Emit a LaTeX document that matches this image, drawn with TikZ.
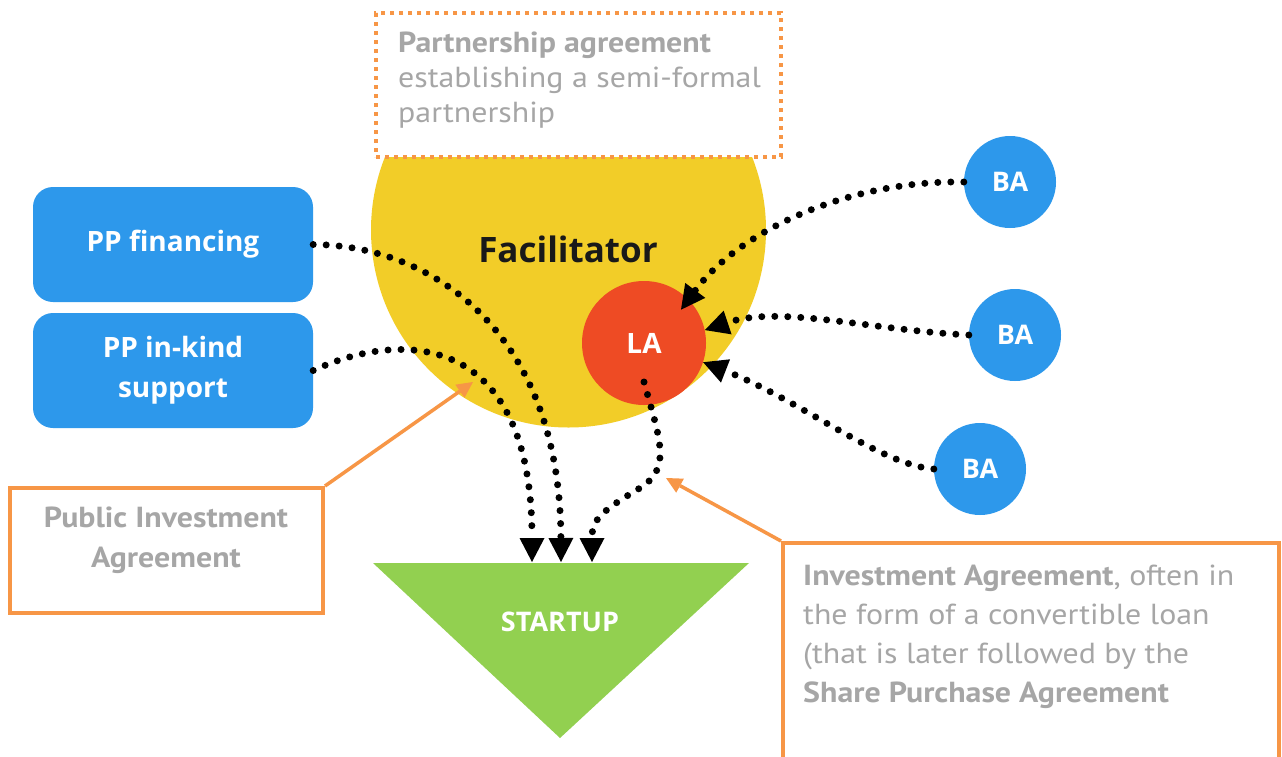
\documentclass[tikz,border=0pt]{standalone}
\usepackage{fontspec}
\setmainfont{PT Sans}
\newfontfamily\notefont[FakeStretch=1.1]{PT Sans}
\newfontfamily\opensans{Open Sans}
\usetikzlibrary{arrows.meta,calc}

\definecolor{ppblue}{RGB}{45,152,235}
\definecolor{facyellow}{RGB}{242,205,40}
\definecolor{lared}{RGB}{238,75,36}
\definecolor{upgreen}{RGB}{146,208,80}
\definecolor{noteorange}{RGB}{247,150,70}
\definecolor{notegray}{RGB}{166,166,166}

\tikzset{
	ppbox/.style={fill=ppblue, rounded corners=20pt, minimum width=280pt, minimum height=115pt, inner sep=0pt, text=white, align=center, font=\opensans\bfseries\fontsize{28}{40}\selectfont},
	investor/.style={circle, fill=ppblue, minimum size=92pt, inner sep=0pt, text=white, font=\opensans\bfseries\fontsize{27}{32}\selectfont},
	flow/.style={line width=7pt, line cap=round, dash pattern=on 0pt off 13pt, -{Triangle[length=24pt,width=25pt,line width=0pt]}},
	notebox/.style={draw=noteorange, line width=4pt, fill=white, inner sep=0pt},
	notetext/.style={text=notegray, inner sep=0pt, font=\notefont\fontsize{29}{35}\selectfont},
	pointer/.style={draw=noteorange, line width=3.5pt, -{Triangle[length=16pt,width=16pt,line width=0pt]}}
}

\begin{document}
\begin{tikzpicture}[x=1pt,y=-1pt]
		%%%%% START %%%%%
		
		\fill[white] (0,0) rectangle (1282,756);
		\useasboundingbox (0,0) rectangle (1282,756);
		
		\node[circle, fill=facyellow, minimum size=395pt, inner sep=0pt] (fac) at (568.5,230) {};
		\node[font=\opensans\bfseries\fontsize{35}{40}\selectfont, text=black!90] (factxt) at (568,249) {Facilitator};
		
		\node[notebox, dash pattern=on 4pt off 5pt, minimum width=405pt, minimum height=144pt] (partner) at (578.5,85) {};
		\node[notetext, anchor=north west, align=left] (partnertxt) at (398,32) {\textbf{Partnership agreement}\\establishing a semi-formal\\partnership};
		
		\node[ppbox] (fin) at (173,244.5) {PP financing};
		\node[ppbox] (inkind) at (173,370.5) {PP in-kind\\support};
		
		\node[circle, fill=lared, minimum size=124pt, inner sep=0pt, text=white, font=\opensans\bfseries\fontsize{28}{32}\selectfont] (la) at (644,343) {LA};
		
		\node[investor] (ba1) at (1010,182) {BA};
		\node[investor] (ba2) at (1015,335) {BA};
		\node[investor] (ba3) at (980,469) {BA};
		
		\fill[upgreen] (373,563) -- (749,563) -- (560,738) -- cycle;
		\node[text=white, font=\opensans\bfseries\fontsize{27}{32}\selectfont] (startup) at (560,622) {STARTUP};
		\coordinate (in1) at (532,562);
		\coordinate (in2) at (561,562);
		\coordinate (in3) at (592,562);
		
		\draw[flow] (fin.east) .. controls (430,245) and (560,330) .. (in2);
		\draw[flow] (inkind.east) .. controls (400,330) and (532,330) .. (in1);
		\draw[flow] ([yshift=-39pt]la.center) .. controls (660,440) and (672,468) .. (640,488) .. controls (600,512) and (592,520) .. (in3);
		
		\draw[flow] (ba1.west) .. controls (850,180) and (740,230) .. ($(la.center)!0.8!(la.42)$);
		\draw[flow] (ba2.west) .. controls (870,330) and (780,305) .. (la.12);
		\draw[flow] (ba3.west) .. controls (880,465) and (800,400) .. (la.-18);
		
		\node[notebox, minimum width=313pt, minimum height=125pt] (pia) at (166.5,550.5) {};
		\node[notetext, align=center, font=\notefont\bfseries\fontsize{29}{40}\selectfont] (piatxt) at (166,540) {Public Investment\\Agreement};
		
		\node[notebox, anchor=north west, minimum width=496pt, minimum height=240pt] (inv) at (781,541) {};
		\node[notetext, anchor=north west, align=left, font=\notefont\fontsize{29}{39}\selectfont] (invtxt) at (803,565) {\textbf{Investment Agreement}, often in\\the form of a convertible loan\\(that is later followed by the\\\textbf{Share Purchase Agreement}};
		
		\coordinate (piatip) at (473,382);
		\coordinate (invtip) at (666,478);
		\draw[pointer] (pia.north east) -- (piatip);
		\draw[pointer] (inv.north west) -- (invtip);
		
		%%%%% END %%%%%
	\end{tikzpicture}
\end{document}
